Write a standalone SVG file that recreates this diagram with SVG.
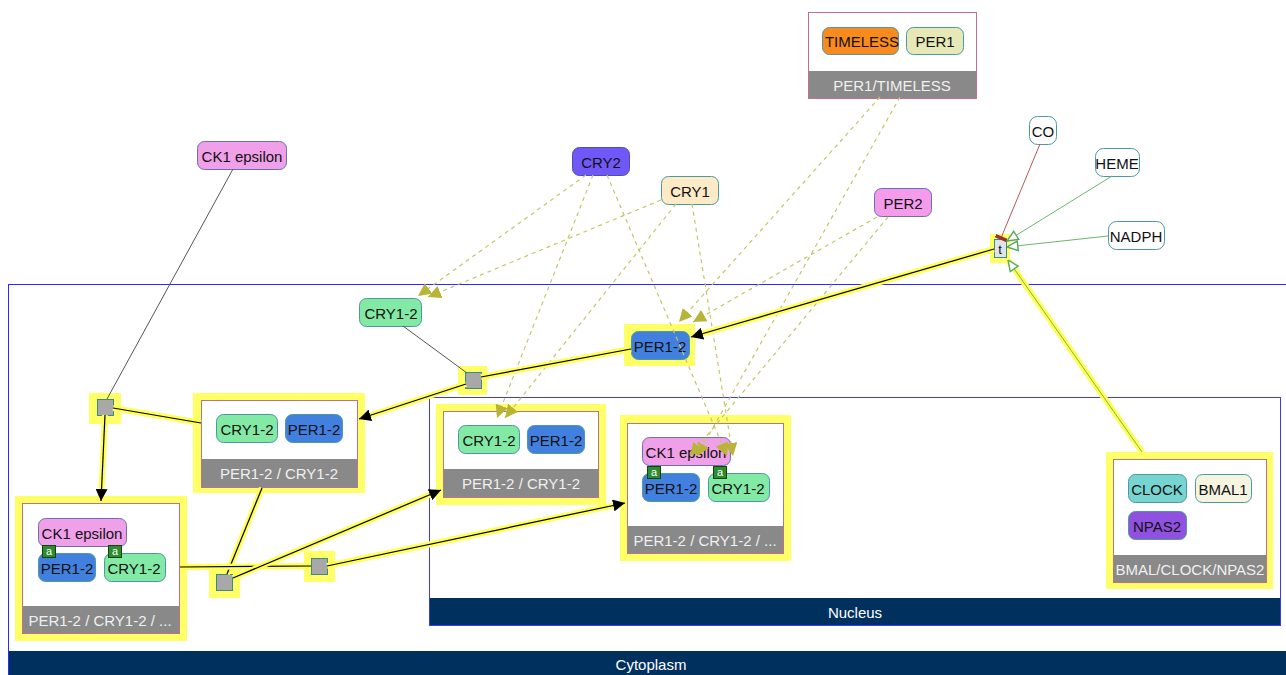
<svg xmlns="http://www.w3.org/2000/svg" width="1286" height="675" viewBox="0 0 1286 675">
<style>
text{font-family:"Liberation Sans",Arial,sans-serif;font-size:15px;text-anchor:middle;dominant-baseline:central;fill:#111}
.lbl{fill:#f0f0f0}
.comp{fill:#fff;stroke:#c07088;stroke-width:1}
.bar{fill:#898989}
.hl{fill:#ffff66}
.node{stroke:#4a9aa0;stroke-width:1}
.proc{fill:#a8a8a8;stroke:#3a8a8a;stroke-width:1}
.glow{fill:none;stroke:#ffff55;stroke-width:6}
.edge{fill:none;stroke:#000;stroke-width:1.2}
.dash{fill:none;stroke:#c8c468;stroke-width:1.2;stroke-dasharray:4 4}
.badge{fill:#2e8b2e;stroke:#114411;stroke-width:1}
.btxt{fill:#fff;font-size:11px}
.navy{fill:#00305e}
</style>
<defs>
<marker id="blk" viewBox="0 0 10 10" refX="10" refY="5" markerWidth="12" markerHeight="12" markerUnits="userSpaceOnUse" orient="auto"><path d="M0,0L10,5L0,10z" fill="#000"/></marker>
<marker id="olv" viewBox="0 0 10 10" refX="10" refY="5" markerWidth="13" markerHeight="13" markerUnits="userSpaceOnUse" orient="auto"><path d="M0,0L10,5L0,10z" fill="#b8b438"/></marker>
<marker id="opn" viewBox="0 0 10 10" refX="10" refY="5" markerWidth="12" markerHeight="12" markerUnits="userSpaceOnUse" orient="auto"><path d="M1,1L10,5L1,9z" fill="#fff" stroke="#5aaa5a" stroke-width="1.2"/></marker>
<marker id="tbar" viewBox="0 0 10 10" refX="5" refY="5" markerWidth="12" markerHeight="12" markerUnits="userSpaceOnUse" orient="auto"><path d="M5,0L5,10" stroke="#a03030" stroke-width="3"/></marker>
</defs>
<rect width="1286" height="675" fill="#fff"/>
<g id="cytoplasm">
<rect x="8.5" y="284.5" width="1290" height="400" fill="none" stroke="#2a2aff" stroke-width="1"/>
<rect class="navy" x="9" y="651" width="1277" height="24"/>
<text x="651" y="664" style="fill:#fff">Cytoplasm</text>
</g>
<g id="nucleus">
<rect x="429.5" y="397.5" width="851" height="228" fill="none" stroke="#3a3aff" stroke-width="1"/>
<rect class="navy" x="430" y="598" width="850" height="27"/>
<text x="855" y="612" style="fill:#fff">Nucleus</text>
</g>
<g id="per1_timeless">
<rect class="comp" x="808.5" y="12.5" width="168" height="86"/>
<rect class="bar" x="809" y="71" width="167" height="27"/>
<text x="892" y="85" class="lbl">PER1/TIMELESS</text>
<rect class="node" x="822.5" y="27.5" width="76" height="27" rx="7" fill="#f98a1e"/>
<text x="862" y="41">TIMELESS</text>
<rect class="node" x="906.5" y="27.5" width="57" height="27" rx="7" fill="#e6e8b8"/>
<text x="935" y="41">PER1</text>
</g>
<g id="ck1_top">
<rect class="node" x="197.5" y="141.5" width="89" height="28" rx="7" fill="#f0a0e8" style="stroke:#6a70b0"/>
<text x="242" y="156">CK1 epsilon</text>
</g>
<g id="cry2">
<rect class="node" x="572.5" y="147.5" width="57" height="28" rx="7" fill="#7058f8" style="stroke:#4a50b0"/>
<text x="601" y="162">CRY2</text>
</g>
<g id="cry1">
<rect class="node" x="661.5" y="176.5" width="57" height="28" rx="7" fill="#fcebc6"/>
<text x="690" y="191">CRY1</text>
</g>
<g id="per2">
<rect class="node" x="874.5" y="188.5" width="57" height="28" rx="7" fill="#f49ceb" style="stroke:#6a70b0"/>
<text x="903" y="203">PER2</text>
</g>
<g id="co">
<rect class="node" x="1029.5" y="116.5" width="27" height="28" rx="8" fill="#fff"/>
<text x="1043" y="131">CO</text>
</g>
<g id="heme">
<rect class="node" x="1095.5" y="148.5" width="44" height="28" rx="8" fill="#fff"/>
<text x="1117" y="163">HEME</text>
</g>
<g id="nadph">
<rect class="node" x="1108.5" y="221.5" width="56" height="28" rx="8" fill="#fff"/>
<text x="1136" y="236">NADPH</text>
</g>
<g id="t_proc">
<rect class="hl" x="990" y="234" width="20" height="29"/>
<rect x="994.5" y="239.5" width="12" height="18" fill="#dde4ec" stroke="#3a8a8a"/>
<text x="1000" y="249" style="font-size:13px">t</text>
</g>
<g id="cry12_top">
<rect class="node" x="359.5" y="298.5" width="62" height="28" rx="7" fill="#82eaa4"/>
<text x="391" y="313">CRY1-2</text>
</g>
<g id="per12_top">
<rect class="hl" x="624" y="324" width="71" height="42"/>
<rect class="node" x="631.5" y="331.5" width="58" height="28" rx="7" fill="#4280e0"/>
<text x="660" y="346">PER1-2</text>
</g>
<g id="proc1">
<rect class="hl" x="458" y="366" width="29" height="29"/>
<rect class="proc" x="465.5" y="372.5" width="16" height="16"/>
</g>
<g id="proc2">
<rect class="hl" x="89" y="393" width="32" height="31"/>
<rect class="proc" x="97.5" y="399.5" width="16" height="16"/>
</g>
<g id="proc3">
<rect class="hl" x="209" y="567" width="31" height="31"/>
<rect class="proc" x="216.5" y="574.5" width="16" height="16"/>
</g>
<g id="proc4">
<rect class="hl" x="304" y="551" width="31" height="31"/>
<rect class="proc" x="311.5" y="558.5" width="16" height="16"/>
</g>
<g id="complex_cyto">
<rect class="hl" x="193" y="393" width="172" height="100"/>
<rect class="comp" x="201.5" y="400.5" width="156" height="87"/>
<rect class="bar" x="202" y="459" width="155" height="28"/>
<text x="279" y="473" class="lbl">PER1-2 / CRY1-2</text>
<rect class="node" x="216.5" y="414.5" width="61" height="28" rx="7" fill="#82eaa4"/>
<text x="247" y="429">CRY1-2</text>
<rect class="node" x="285.5" y="414.5" width="57" height="28" rx="7" fill="#4280e0"/>
<text x="314" y="429">PER1-2</text>
</g>
<g id="complex_nuc">
<rect class="hl" x="436" y="404" width="170" height="101"/>
<rect class="comp" x="443.5" y="411.5" width="155" height="86"/>
<rect class="bar" x="444" y="469" width="154" height="28"/>
<text x="521" y="483" class="lbl">PER1-2 / CRY1-2</text>
<rect class="node" x="458.5" y="425.5" width="61" height="28" rx="7" fill="#82eaa4"/>
<text x="489" y="440">CRY1-2</text>
<rect class="node" x="527.5" y="425.5" width="57" height="28" rx="7" fill="#4280e0"/>
<text x="556" y="440">PER1-2</text>
</g>
<g id="complex_ck1_nuc">
<rect class="hl" x="620" y="415" width="171" height="146"/>
<rect class="comp" x="627.5" y="423.5" width="156" height="130"/>
<rect class="bar" x="628" y="526" width="155" height="27"/>
<text x="705" y="540" class="lbl">PER1-2 / CRY1-2 / ...</text>
<rect class="node" x="642.5" y="437.5" width="88" height="28" rx="7" fill="#f0a0e8" style="stroke:#6a70b0"/>
<text x="686" y="452">CK1 epsilon</text>
<rect class="node" x="642.5" y="473.5" width="57" height="28" rx="7" fill="#4280e0"/>
<text x="671" y="488">PER1-2</text>
<rect class="node" x="708.5" y="473.5" width="61" height="28" rx="7" fill="#82eaa4"/>
<text x="738" y="488">CRY1-2</text>
<rect class="badge" x="647.5" y="466.5" width="13" height="12"/>
<text x="654" y="472" class="btxt">a</text>
<rect class="badge" x="713.5" y="466.5" width="13" height="12"/>
<text x="720" y="472" class="btxt">a</text>
</g>
<g id="complex_ck1_cyto">
<rect class="hl" x="15" y="496" width="172" height="145"/>
<rect class="comp" x="22.5" y="503.5" width="157" height="130"/>
<rect class="bar" x="23" y="606" width="156" height="27"/>
<text x="100" y="620" class="lbl">PER1-2 / CRY1-2 / ...</text>
<rect class="node" x="38.5" y="518.5" width="88" height="28" rx="7" fill="#f0a0e8" style="stroke:#6a70b0"/>
<text x="82" y="533">CK1 epsilon</text>
<rect class="node" x="38.5" y="553.5" width="57" height="28" rx="7" fill="#4280e0"/>
<text x="67" y="568">PER1-2</text>
<rect class="node" x="104.5" y="553.5" width="61" height="28" rx="7" fill="#82eaa4"/>
<text x="134" y="568">CRY1-2</text>
<rect class="badge" x="42.5" y="545.5" width="13" height="12"/>
<text x="49" y="551" class="btxt">a</text>
<rect class="badge" x="108.5" y="545.5" width="13" height="12"/>
<text x="115" y="551" class="btxt">a</text>
</g>
<g id="bmal_clock_npas2">
<rect class="hl" x="1106" y="452" width="167" height="137"/>
<rect class="comp" x="1113.5" y="459.5" width="153" height="123"/>
<rect class="bar" x="1114" y="555" width="152" height="27"/>
<text x="1190" y="569" class="lbl">BMAL/CLOCK/NPAS2</text>
<rect class="node" x="1128.5" y="474.5" width="58" height="28" rx="7" fill="#78d4d0"/>
<text x="1157" y="489">CLOCK</text>
<rect class="node" x="1195.5" y="474.5" width="56" height="28" rx="7" fill="#f4f4e0"/>
<text x="1223" y="489">BMAL1</text>
<rect class="node" x="1128.5" y="511.5" width="58" height="28" rx="7" fill="#9050e0"/>
<text x="1157" y="526">NPAS2</text>
</g>
<g id="connectors">
<path class="dash" d="M586,175L418,296" marker-end="url(#olv)"/>
<path class="dash" d="M661,200L428,297" marker-end="url(#olv)"/>
<path class="dash" d="M593,175L497,418" marker-end="url(#olv)"/>
<path class="dash" d="M676,204L505,418" marker-end="url(#olv)"/>
<path class="dash" d="M607,175L727,456" marker-end="url(#olv)"/>
<path class="dash" d="M692,204L733,456" marker-end="url(#olv)"/>
<path class="dash" d="M880,97L679,322" marker-end="url(#olv)"/>
<path class="dash" d="M877,217L693,322" marker-end="url(#olv)"/>
<path class="dash" d="M900,97L697,456" marker-end="url(#olv)"/>
<path class="dash" d="M888,217L690,456" marker-end="url(#olv)"/>
<path d="M233,169L107,399" fill="none" stroke="#555" stroke-width="1"/>
<path d="M403,326L467,373" fill="none" stroke="#555" stroke-width="1"/>
<path d="M1040,144L1001,238" fill="none" stroke="#b05a5a" stroke-width="1" marker-end="url(#tbar)"/>
<path d="M1112,176L1007,241" fill="none" stroke="#6ab86a" stroke-width="1" marker-end="url(#opn)"/>
<path d="M1108,236L1007,247" fill="none" stroke="#6ab86a" stroke-width="1" marker-end="url(#opn)"/>
<path class="glow" d="M1142,452L1008,260"/>
<path d="M1142,452L1008,260" fill="none" stroke="#7ab84a" stroke-width="1" marker-end="url(#opn)"/>
<path class="glow" d="M994,249L691,337"/>
<path class="edge" d="M994,249L691,337" marker-end="url(#blk)"/>
<path class="glow" d="M631,349L481,377"/>
<path class="edge" d="M631,349L481,377"/>
<path class="glow" d="M466,384L359,419"/>
<path class="edge" d="M466,384L359,419" marker-end="url(#blk)"/>
<path class="glow" d="M113,408L201,423"/>
<path class="edge" d="M113,408L201,423"/>
<path class="glow" d="M105,415L101,501"/>
<path class="edge" d="M105,415L101,501" marker-end="url(#blk)"/>
<path class="glow" d="M262,488L227,574"/>
<path class="edge" d="M262,488L227,574"/>
<path class="glow" d="M180,567L311,566"/>
<path class="edge" d="M180,567L311,566"/>
<path class="glow" d="M233,578L441,490"/>
<path class="edge" d="M233,578L441,490" marker-end="url(#blk)"/>
<path class="glow" d="M327,566L625,503"/>
<path class="edge" d="M327,566L625,503" marker-end="url(#blk)"/>
</g>
</svg>
